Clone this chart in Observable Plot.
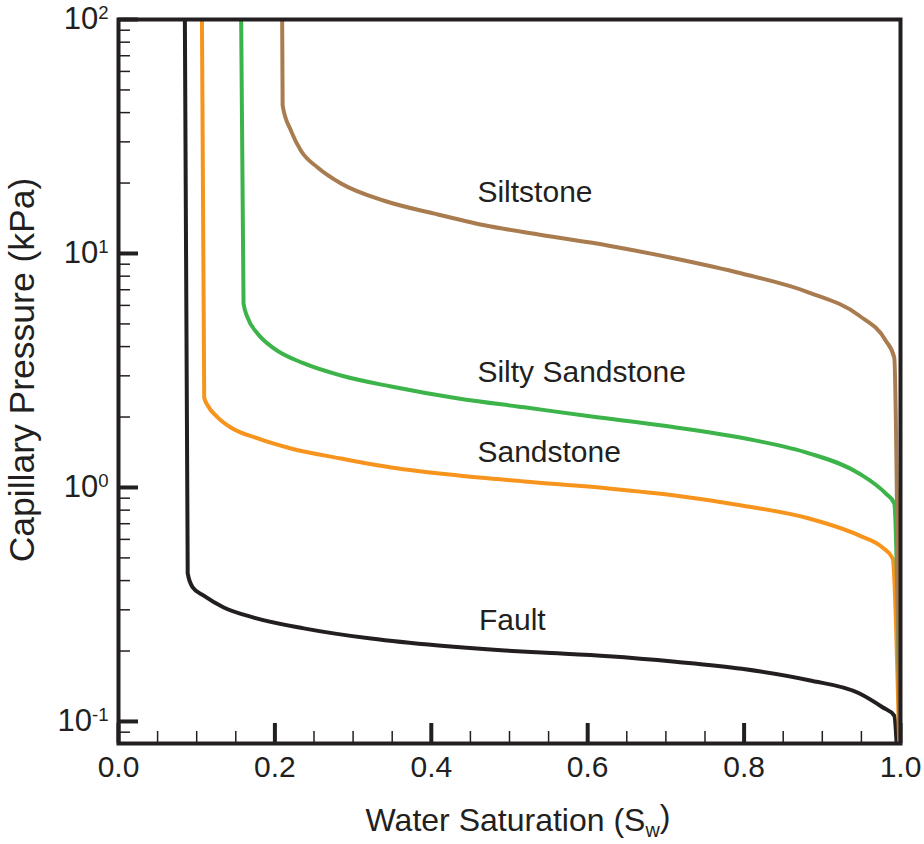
<!DOCTYPE html>
<html>
<head>
<meta charset="utf-8">
<script src="https://cdn.jsdelivr.net/npm/d3@7"></script>
<script src="https://cdn.jsdelivr.net/npm/@observablehq/plot@0.6"></script>
<style>
  html, body { margin: 0; padding: 0; background: #fff; }
  #chart { width: 924px; height: 844px; }
  svg { font-family: "Liberation Sans", Arial, Helvetica, sans-serif; }
</style>
</head>
<body>
<div id="chart"></div>
<script>
// ---- Data ----
const rockTypes = ["Fault", "Sandstone", "Silty Sandstone", "Siltstone"];
const rockColors = ["#231f20", "#f7941d", "#3cb44a", "#a97c50"];

const faultSw = [0.0846, 0.0885, 0.0949, 0.109, 0.1346, 0.173, 0.237, 0.323, 0.409, 0.494, 0.541, 0.627, 0.712, 0.797, 0.883, 0.947, 0.977, 0.992, 0.996];
const faultPc = [150, 0.429, 0.374, 0.345, 0.307, 0.278, 0.250, 0.226, 0.211, 0.201, 0.197, 0.190, 0.180, 0.168, 0.150, 0.132, 0.115, 0.106, 0.07];

const sandSw = [0.1064, 0.1096, 0.1141, 0.127, 0.1436, 0.178, 0.2205, 0.2846, 0.3487, 0.4346, 0.519, 0.627, 0.7115, 0.797, 0.883, 0.947, 0.977, 0.990, 0.9987];
const sandPc = [150, 2.424, 2.24, 1.99, 1.805, 1.62, 1.468, 1.33, 1.218, 1.125, 1.061, 0.990, 0.924, 0.838, 0.737, 0.624, 0.554, 0.497, 0.07];

const siltySw = [0.1564, 0.1599, 0.165, 0.1778, 0.1987, 0.2372, 0.2846, 0.3487, 0.4346, 0.519, 0.605, 0.695, 0.814, 0.883, 0.947, 0.981, 0.992, 0.9997];
const siltyPc = [150, 6.11, 5.33, 4.55, 3.93, 3.39, 3.01, 2.70, 2.40, 2.20, 2.01, 1.84, 1.59, 1.40, 1.148, 0.943, 0.855, 0.07];

const siltSw = [0.209, 0.2099, 0.2205, 0.2333, 0.2547, 0.2846, 0.3397, 0.4038, 0.468, 0.537, 0.627, 0.7115, 0.797, 0.883, 0.947, 0.981, 0.992, 0.9987];
const siltPc = [150, 42.9, 33.5, 27.5, 23.3, 19.9, 16.8, 14.8, 13.2, 12.05, 10.8, 9.52, 8.21, 6.81, 5.43, 4.25, 3.59, 0.07];

const labelNames = ["Siltstone", "Silty Sandstone", "Sandstone", "Fault"];
const labelSw = [0.459, 0.459, 0.459, 0.461];
const labelPc = [18.2, 3.10, 1.41, 0.270];

const xMajorTicks = [0, 0.2, 0.4, 0.6, 0.8, 1.0];
const xMinorTicks = [0.05, 0.1, 0.15, 0.25, 0.3, 0.35, 0.45, 0.5, 0.55, 0.65, 0.7, 0.75, 0.85, 0.9, 0.95];
const yMajorTicks = [0.1, 1, 10, 100];
const yMinorTicks = [0.09, 0.2, 0.3, 0.4, 0.5, 0.6, 0.7, 0.8, 0.9, 2, 3, 4, 5, 6, 7, 8, 9, 20, 30, 40, 50, 60, 70, 80, 90];
const yDomain = [0.0805, 100];

// ---- Build tables ----
const seriesSw = [faultSw, sandSw, siltySw, siltSw];
const seriesPc = [faultPc, sandPc, siltyPc, siltPc];
const curves = [];
rockTypes.forEach((r, i) => seriesSw[i].forEach((sw, j) => curves.push({rock: r, sw, pc: seriesPc[i][j]})));
const labels = labelNames.map((n, i) => ({name: n, sw: labelSw[i], pc: labelPc[i]}));

const W = 924, H = 844;
const mL = 118, mR = 24, mT = 19, mB = 101;
const frameW = W - mL - mR, frameH = H - mT - mB;
const ink = "#231f20";

const plot = Plot.plot({
  width: W, height: H,
  marginLeft: mL, marginRight: mR, marginTop: mT, marginBottom: mB,
  style: {fontFamily: '"Liberation Sans", Arial, Helvetica, sans-serif', background: "#fff"},
  x: {domain: [0, 1]},
  y: {type: "log", domain: yDomain},
  color: {domain: rockTypes, range: rockColors},
  marks: [
    // minor & major ticks (inward)
    Plot.ruleX(xMinorTicks, {x: d => d, stroke: ink, strokeWidth: 1.5, insetTop: frameH - 12}),
    Plot.ruleX(xMajorTicks, {x: d => d, stroke: ink, strokeWidth: 4, insetTop: frameH - 20}),
    Plot.ruleY(yMinorTicks, {y: d => d, stroke: ink, strokeWidth: 1.5, insetRight: frameW - 12}),
    Plot.ruleY(yMajorTicks, {y: d => d, stroke: ink, strokeWidth: 4, insetRight: frameW - 20}),
    Plot.line(curves, {x: "sw", y: "pc", z: "rock", stroke: "rock", strokeWidth: 4, curve: "monotone-x", clip: true}),
    Plot.text(labels, {x: "sw", y: "pc", text: "name", textAnchor: "start", fontSize: 30, fill: ink}),
    Plot.axisX({ticks: xMajorTicks, tickFormat: d3.format(".1f"), tickSize: 0, tickPadding: 12, fontSize: 30, label: null, color: ink}),
    Plot.axisY({ticks: yMajorTicks, tickFormat: d => "10^" + Math.round(Math.log10(d)), tickSize: 0, tickPadding: 10, fontSize: 31, label: null, color: ink}),
    Plot.frame({stroke: ink, strokeWidth: 4})
  ]
});

document.getElementById("chart").appendChild(plot);

const svg = d3.select(plot);
// superscript exponents on the y tick labels
svg.selectAll('g[aria-label="y-axis tick label"] text').each(function() {
  const t = d3.select(this);
  const parts = t.text().split("^");
  if (parts.length !== 2) return;
  t.text(null);
  t.append("tspan").text(parts[0]);
  t.append("tspan").attr("dy", "-0.55em").attr("font-size", "0.6em").text(parts[1]);
});

// axis titles
const xt = svg.append("text")
  .attr("x", 518).attr("y", 831)
  .attr("text-anchor", "middle")
  .attr("font-size", 32).attr("fill", ink);
xt.append("tspan").text("Water Saturation (S");
xt.append("tspan").attr("font-size", "0.62em").attr("dy", "0.3em").text("w");
xt.append("tspan").attr("dy", "-0.3em").text(")");

svg.append("text")
  .attr("transform", "translate(34,370) rotate(-90)")
  .attr("text-anchor", "middle")
  .attr("font-size", 35.5).attr("fill", ink)
  .text("Capillary Pressure (kPa)");
</script>
</body>
</html>
